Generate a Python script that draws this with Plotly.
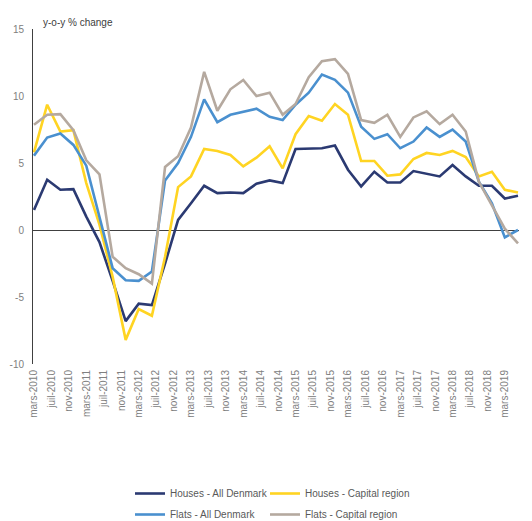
import pandas as pd
import plotly.graph_objects as go

# Quarterly observations, Q1 2010 .. Q2 2019
dates = list(pd.date_range("2010-03-01", periods=38, freq="3MS"))

houses_dk = [1.5, 3.75, 3.0, 3.05, 1.0, -0.9, -3.8, -6.8, -5.5, -5.6,
             -2.5, 0.75, 2.0, 3.3, 2.75, 2.8, 2.75, 3.45, 3.7, 3.5,
             6.05, 6.1, 6.1, 6.3, 4.5, 3.25, 4.35, 3.55, 3.55, 4.4,
             4.2, 4.0, 4.85, 4.0, 3.3, 3.3, 2.35, 2.55]
houses_cap = [5.8, 9.35, 7.35, 7.45, 3.5, 0.4, -3.5, -8.2, -5.9, -6.4,
              -2.0, 3.2, 4.0, 6.05, 5.9, 5.6, 4.75, 5.4, 6.25, 4.6,
              7.15, 8.5, 8.15, 9.4, 8.6, 5.15, 5.15, 4.05, 4.15, 5.3,
              5.75, 5.6, 5.9, 5.45, 4.0, 4.35, 3.0, 2.8]
flats_dk = [5.55, 6.9, 7.2, 6.35, 4.8, 1.0, -2.85, -3.75, -3.8, -3.1,
            3.7, 5.0, 6.95, 9.75, 8.05, 8.6, 8.85, 9.05, 8.45, 8.2,
            9.35, 10.25, 11.6, 11.2, 10.25, 7.7, 6.8, 7.15, 6.1, 6.6,
            7.65, 6.95, 7.5, 6.6, 3.6, 2.0, -0.55, 0.0]
flats_cap = [7.85, 8.6, 8.65, 7.45, 5.2, 4.15, -2.0, -2.85, -3.3, -4.0,
             4.7, 5.5, 7.65, 11.8, 8.9, 10.5, 11.2, 10.0, 10.25, 8.6,
             9.4, 11.4, 12.6, 12.75, 11.65, 8.2, 8.0, 8.6, 6.95, 8.4,
             8.85, 7.9, 8.6, 7.35, 3.6, 1.85, 0.1, -1.0]

tick_dates = list(pd.date_range("2010-03-01", "2019-03-01", freq="4MS"))
tick_labels = ["mars-2010", "juil-2010", "nov-2010",
               "mars-2011", "juil-2011", "nov-2011",
               "mars-2012", "juil-2012", "nov-2012",
               "mars-2013", "juil-2013", "nov-2013",
               "mars-2014", "juil-2014", "nov-2014",
               "mars-2015", "juil-2015", "nov-2015",
               "mars-2016", "juil-2016", "nov-2016",
               "mars-2017", "juil-2017", "nov-2017",
               "mars-2018", "juil-2018", "nov-2018",
               "mars-2019"]

series_names = ["Houses - All Denmark", "Houses - Capital region",
                "Flats - All Denmark", "Flats - Capital region"]
series_colors = ["#2B3A72", "#FFD422", "#4A90CF", "#B5A99F"]
series_legend = ["legend", "legend2", "legend", "legend2"]
series_values = [houses_dk, houses_cap, flats_dk, flats_cap]

FONT = "Liberation Sans, Arial, sans-serif"
W, H = 524, 513  # page body adds an 8px margin

fig = go.Figure()
for name, vals, col, lg in zip(series_names, series_values, series_colors, series_legend):
    fig.add_trace(go.Scatter(
        x=dates, y=vals, mode="lines", name=name,
        line=dict(color=col, width=2.6),
        legend=lg, legendgroup=name, hoverinfo="skip",
    ))

legend_common = dict(
    orientation="v", xref="container", yref="container",
    xanchor="left", yanchor="top",
    font=dict(family=FONT, size=10, color="#595959"),
    bgcolor="rgba(0,0,0,0)", tracegroupgap=2, itemwidth=30,
)

fig.update_layout(
    width=W, height=H, autosize=False,
    margin=dict(l=25, r=13, t=21, b=157, autoexpand=False),
    paper_bgcolor="white", plot_bgcolor="white",
    font=dict(family=FONT, size=10, color="#808080"),
    showlegend=True,
    legend=dict(x=122 / W, y=1 - 471 / H, **legend_common),
    legend2=dict(x=257 / W, y=1 - 471 / H, **legend_common),
    xaxis=dict(
        type="date",
        range=["2010-02-22", "2019-06-08"],
        tickvals=tick_dates, ticktext=tick_labels,
        tickangle=-90, tickfont=dict(family=FONT, size=10, color="#808080"),
        showgrid=False, zeroline=False, showline=False, ticks="",
        ticklabelstandoff=3,
    ),
    yaxis=dict(
        range=[-10, 15], tickvals=[-10, -5, 0, 5, 10, 15],
        ticktext=["-10", "-5", "0", "5", "10", "15"],
        tickfont=dict(family=FONT, size=10, color="#808080"),
        showgrid=False, showline=True, linecolor="#404040", linewidth=1,
        zeroline=True, zerolinecolor="#404040", zerolinewidth=1,
        ticks="", ticklabelstandoff=6,
    ),
    annotations=[dict(
        text="y-o-y % change", xref="paper", yref="paper",
        x=(40.5 - 33) / 486, y=1, xanchor="left", yanchor="bottom",
        yshift=-1, showarrow=False,
        font=dict(family=FONT, size=10, color="#404040"),
    )],
)

fig.write_html("out.html")
